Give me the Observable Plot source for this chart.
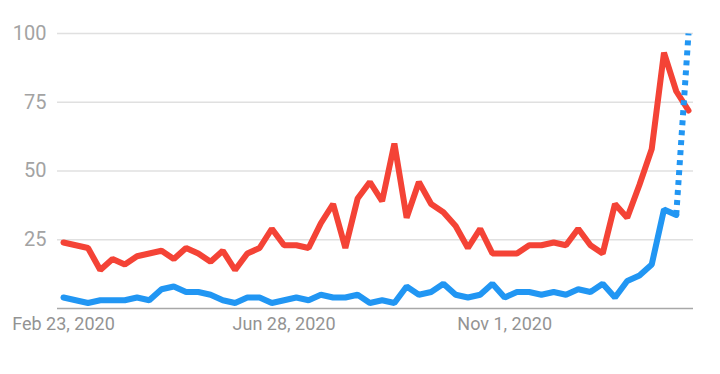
<!DOCTYPE html>
<html><head><meta charset="utf-8">
<script src="https://cdn.jsdelivr.net/npm/d3@7"></script>
<script src="https://cdn.jsdelivr.net/npm/@observablehq/plot@0.6"></script>
<style>html,body{margin:0;padding:0;background:#fff;} #chart svg{display:block;}</style>
</head><body><div id="chart"></div>
<script>
// Weekly series, first week starting Feb 23, 2020
const startWeek = "2020-02-23";
const redValues = [24,23,22,14,18,16,19,20,21,18,22,20,17,21,14,20,22,29,23,23,22,31,38,22,
  40,46,39,60,33,46,38,35,30,22,29,20,20,20,23,23,24,23,29,23,20,38,33,45,58,93,79,72];
const blueValues = [4,3,2,3,3,3,4,3,7,8,6,6,5,3,2,4,4,2,3,4,3,5,4,4,
  5,2,3,2,8,5,6,9,5,4,5,9,4,6,6,5,6,5,7,6,9,4,10,12,16,36,34,100];
const partialIndex = 50; // last blue segment (partial data) is dotted
const yTicks = [25, 50, 75, 100];
const xTickDates = ["2020-02-23", "2020-06-28", "2020-11-01"];
const xTickLabels = ["Feb 23, 2020", "Jun 28, 2020", "Nov 1, 2020"];

const weeks = redValues.map((_, i) => d3.utcDay.offset(new Date(startWeek), 7 * i));
const red = redValues.map((v, i) => ({date: weeks[i], value: v}));
const blue = blueValues.map((v, i) => ({date: weeks[i], value: v}));
const blueSolid = blue.slice(0, partialIndex + 1);
const blueDotted = blue.slice(partialIndex);
const xTicks = xTickDates.map(d => new Date(d));

const chart = Plot.plot({
  width: 720,
  height: 374,
  marginLeft: 63,
  marginRight: 32,
  marginTop: 33,
  marginBottom: 66,
  style: {fontFamily: "Roboto, 'Noto Sans', sans-serif", background: "#fff"},
  x: {type: "utc", domain: [weeks[0], weeks[weeks.length - 1]]},
  y: {domain: [0, 100]},
  marks: [
    Plot.ruleY(yTicks, {stroke: "#e0e0e0", strokeWidth: 1.5, insetLeft: -6, insetRight: -5}),
    Plot.ruleY([0], {stroke: "#a8a8a8", strokeWidth: 1.5, insetLeft: -6, insetRight: -5}),
    Plot.axisY(yTicks, {tickSize: 0, tickPadding: 17, fontSize: 20, color: "#a3a3a3", label: null}),
    Plot.axisX(xTicks, {
      tickSize: 0, tickPadding: 9, fontSize: 18, color: "#939393", label: null,
      tickFormat: d => xTickLabels[xTicks.findIndex(t => +t === +d)]
    }),
    Plot.lineY(blueSolid, {x: "date", y: "value", stroke: "#2196f3", strokeWidth: 6, strokeLinejoin: "miter"}),
    Plot.lineY(red, {x: "date", y: "value", stroke: "#f44336", strokeWidth: 6, strokeLinejoin: "miter"}),
    Plot.lineY(blueDotted, {x: "date", y: "value", stroke: "#2196f3", strokeWidth: 6, strokeDasharray: "5,5", strokeLinecap: "butt"})
  ]
});
document.getElementById("chart").appendChild(chart);
</script>
</body></html>
